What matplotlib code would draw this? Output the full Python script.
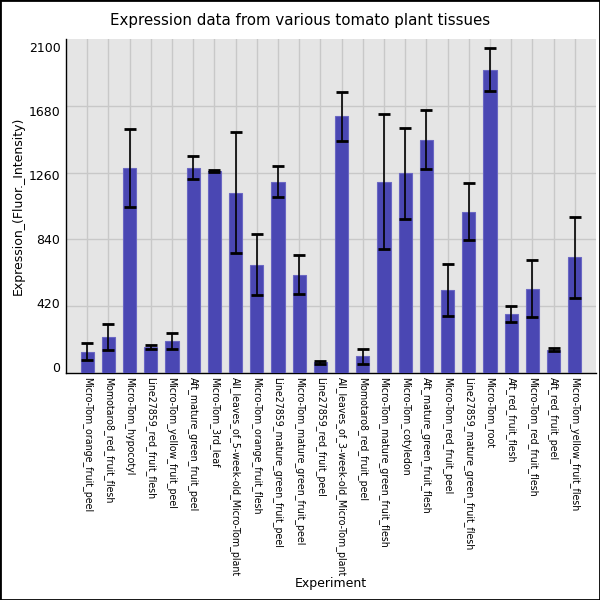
import matplotlib
matplotlib.use("Agg")
import matplotlib.pyplot as plt
from matplotlib.patches import Rectangle
import numpy as np

categories = [
    "Micro-Tom_orange_fruit_peel", "Momotaro8_red_fruit_flesh", "Micro-Tom_hypocotyl",
    "Line27859_red_fruit_flesh", "Micro-Tom_yellow_fruit_peel", "Aft_mature_green_fruit_peel",
    "Micro-Tom_3rd_leaf", "All_leaves_of_5-week-old_Micro-Tom_plant", "Micro-Tom_orange_fruit_flesh",
    "Line27859_mature_green_fruit_peel", "Micro-Tom_mature_green_fruit_peel", "Line27859_red_fruit_peel",
    "All_leaves_of_3-week-old_Micro-Tom_plant", "Momotaro8_red_fruit_peel", "Micro-Tom_mature_green_fruit_flesh",
    "Micro-Tom_cotyledon", "Aft_mature_green_fruit_flesh", "Micro-Tom_red_fruit_peel",
    "Line27859_mature_green_fruit_flesh", "Micro-Tom_root", "Aft_red_fruit_flesh",
    "Micro-Tom_red_fruit_flesh", "Aft_red_fruit_peel", "Micro-Tom_yellow_fruit_flesh",
]
values = [100, 198, 1308, 133, 172, 1308, 1285, 1145, 672, 1216, 606, 30,
          1645, 70, 1216, 1270, 1492, 505, 1019, 1952, 350, 515, 112, 720]
errors = [57, 84, 256, 12, 52, 77, 8, 400, 199, 100, 126, 9,
          160, 49, 442, 298, 195, 170, 186, 144, 52, 184, 10, 264]
yticks = [0, 420, 840, 1260, 1680, 2100]

fig = plt.figure(figsize=(6, 6), dpi=100)
ax = fig.add_axes([0.11, 0.3788, 0.8833, 0.5557])
ax.set_facecolor("#e5e5e5")

ylo, yhi = -37.4, 2150.5
x = np.arange(len(categories))
vals = np.array(values, dtype=float)
ax.bar(x, vals - ylo, bottom=ylo, width=0.63, color="#4a47b3",
       edgecolor="#6a67c3", linewidth=0.8, zorder=3)
ax.errorbar(x, vals, yerr=errors, fmt="none", ecolor="black", elinewidth=1.2,
            capsize=4.5, capthick=2, zorder=4)

ax.set_xlim(-1, len(categories))
ax.set_ylim(ylo, yhi)
ax.set_yticks(yticks)
ax.set_yticklabels([str(v) for v in yticks], fontsize=9)
grid_pos = [ylo + f * (yhi - ylo) for f in (0.2, 0.4, 0.6, 0.8)]
ax.set_yticks(grid_pos, minor=True)
ax.set_xticks(x)
ax.set_xticklabels(categories, rotation=270, fontsize=6.85, va="top", ha="center")
ax.tick_params(axis="both", which="both", length=0)
ax.tick_params(axis="y", pad=4)
ax.tick_params(axis="x", pad=3)
ax.grid(axis="y", which="minor", color="#c8c8c8", linewidth=1, zorder=0)
ax.grid(axis="x", which="major", color="#c8c8c8", linewidth=1, zorder=0)
ax.set_axisbelow(True)
for s in ("top", "right"):
    ax.spines[s].set_visible(False)
for s in ("left", "bottom"):
    ax.spines[s].set_color("black")
    ax.spines[s].set_linewidth(1)

fig.text(18 / 600, 0.5 * (0.3788 + 0.9345), "Expression_(Fluor._Intensity)",
         rotation=90, ha="center", va="center", fontsize=9)
fig.text(331 / 600, 1 - 584 / 600, "Experiment", ha="center", va="center", fontsize=9)
fig.text(0.5, 0.966, "Expression data from various tomato plant tissues",
         ha="center", va="center", fontsize=10.8)

fig.patches.append(Rectangle((0, 0), 1, 1, transform=fig.transFigure, fill=False,
                             edgecolor="black", linewidth=2))
fig.savefig("out.png", dpi=100)
